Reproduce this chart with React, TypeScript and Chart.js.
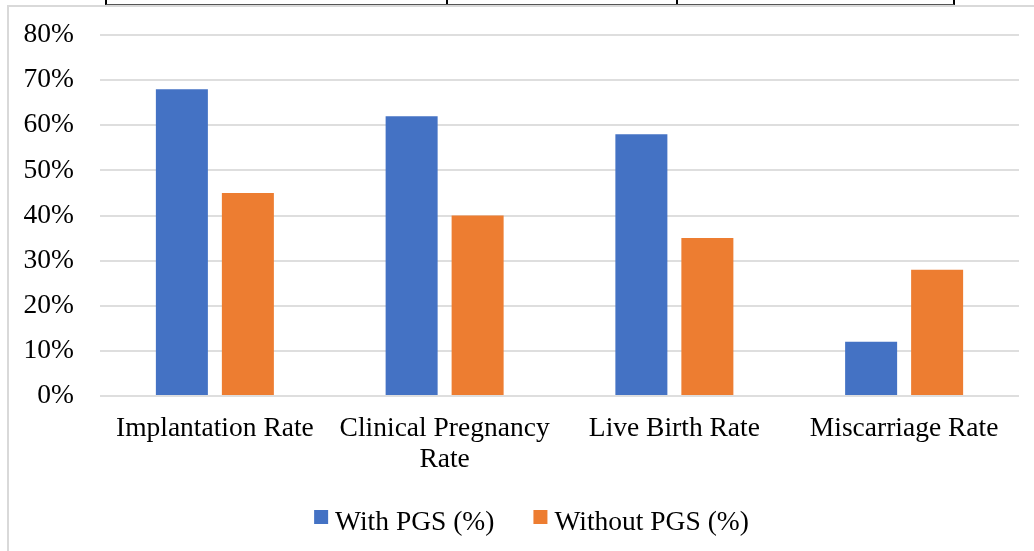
import React, { useEffect, useRef } from "react";
import { Chart, registerables } from "chart.js";

Chart.register(...registerables);

// Outcome categories (multi-line labels are arrays)
const categories: (string | string[])[] = [
  "Implantation Rate",
  ["Clinical Pregnancy", "Rate"],
  "Live Birth Rate",
  "Miscarriage Rate",
];

// Rates in percent
const withPGS = [68, 62, 58, 12];
const withoutPGS = [45, 40, 35, 28];

const seriesLabels = ["With PGS (%)", "Without PGS (%)"];
const seriesColors = ["#4472C4", "#ED7D31"];

// y-axis range and step (percent)
const yMin = 0;
const yMax = 80;
const yStep = 10;

const FONT_FAMILY = '"Liberation Serif", "Times New Roman", serif';
const FONT_SIZE = 27.5;

// Centered legend with small square swatches below the axis labels
const bottomLegend = {
  id: "bottomLegend",
  afterDraw(chart: any) {
    const ctx: CanvasRenderingContext2D = chart.ctx;
    ctx.save();
    ctx.font = `${FONT_SIZE}px ${FONT_FAMILY}`;
    const box = 14;
    const gap = 7;
    const itemGap = 39;
    const items = chart.data.datasets.map((ds: any) => ({
      label: ds.label as string,
      color: ds.backgroundColor as string,
      w: ctx.measureText(ds.label).width,
    }));
    const total =
      items.reduce((s: number, it: any) => s + box + gap + it.w, 0) +
      itemGap * (items.length - 1);
    let x = chart.width / 2 - total / 2;
    const baseline = chart.chartArea.bottom + 134;
    ctx.textBaseline = "alphabetic";
    ctx.textAlign = "left";
    for (const it of items) {
      ctx.fillStyle = it.color;
      ctx.fillRect(x, baseline - 20, box, box);
      ctx.fillStyle = "#000";
      ctx.fillText(it.label, x + box + gap, baseline);
      x += box + gap + it.w + itemGap;
    }
    ctx.restore();
  },
};

export default function App() {
  const canvasRef = useRef<HTMLCanvasElement | null>(null);

  useEffect(() => {
    if (!canvasRef.current) return;
    const chart = new Chart(canvasRef.current, {
      type: "bar",
      data: {
        labels: categories as any,
        datasets: [
          {
            label: seriesLabels[0],
            data: withPGS,
            backgroundColor: seriesColors[0],
            barPercentage: 0.788,
            categoryPercentage: 0.5745,
          },
          {
            label: seriesLabels[1],
            data: withoutPGS,
            backgroundColor: seriesColors[1],
            barPercentage: 0.788,
            categoryPercentage: 0.5745,
          },
        ],
      },
      options: {
        responsive: false,
        animation: false,
        layout: { padding: { left: 0, right: 35, top: 28, bottom: 0 } },
        plugins: {
          legend: { display: false },
          tooltip: { enabled: false },
        },
        scales: {
          x: {
            grid: { display: false, drawTicks: false },
            border: { display: false },
            ticks: {
              color: "#000",
              font: { family: FONT_FAMILY, size: FONT_SIZE, lineHeight: 1.127 },
              padding: 17,
              autoSkip: false,
              maxRotation: 0,
              minRotation: 0,
            },
            afterFit(axis: any) {
              axis.height = 155;
            },
          },
          y: {
            min: yMin,
            max: yMax,
            grid: { color: "#dedede", lineWidth: 2, drawTicks: false },
            border: { display: false },
            ticks: {
              stepSize: yStep,
              color: "#000",
              font: { family: FONT_FAMILY, size: FONT_SIZE },
              padding: 26,
              callback: (v: any) => `${v}%`,
            },
            afterFit(axis: any) {
              axis.width = 91;
              axis.paddingTop = 0;
              axis.paddingBottom = 0;
            },
          },
        },
      },
      plugins: [bottomLegend],
    });
    return () => chart.destroy();
  }, []);

  return (
    <div
      style={{
        position: "fixed",
        left: 0,
        top: 0,
        width: 1034,
        height: 551,
        overflow: "hidden",
        background: "#fff",
      }}
    >
      {/* edge of the table above the figure */}
      <div
        style={{
          position: "absolute",
          left: 105,
          top: 0,
          width: 846,
          height: 4,
          borderLeft: "2px solid #000",
          borderRight: "2px solid #000",
          borderBottom: "1px solid #555",
        }}
      >
        <div style={{ position: "absolute", left: 339, top: 0, width: 2, height: 4, background: "#000" }} />
        <div style={{ position: "absolute", left: 569, top: 0, width: 2, height: 4, background: "#000" }} />
      </div>
      {/* figure frame */}
      <div
        style={{
          position: "absolute",
          left: 7,
          top: 5,
          width: 1045,
          height: 560,
          border: "2px solid #d9d9d9",
        }}
      >
        <canvas
          ref={canvasRef}
          width={1045}
          height={544}
          style={{ display: "block", width: 1045, height: 544 }}
        />
      </div>
    </div>
  );
}
